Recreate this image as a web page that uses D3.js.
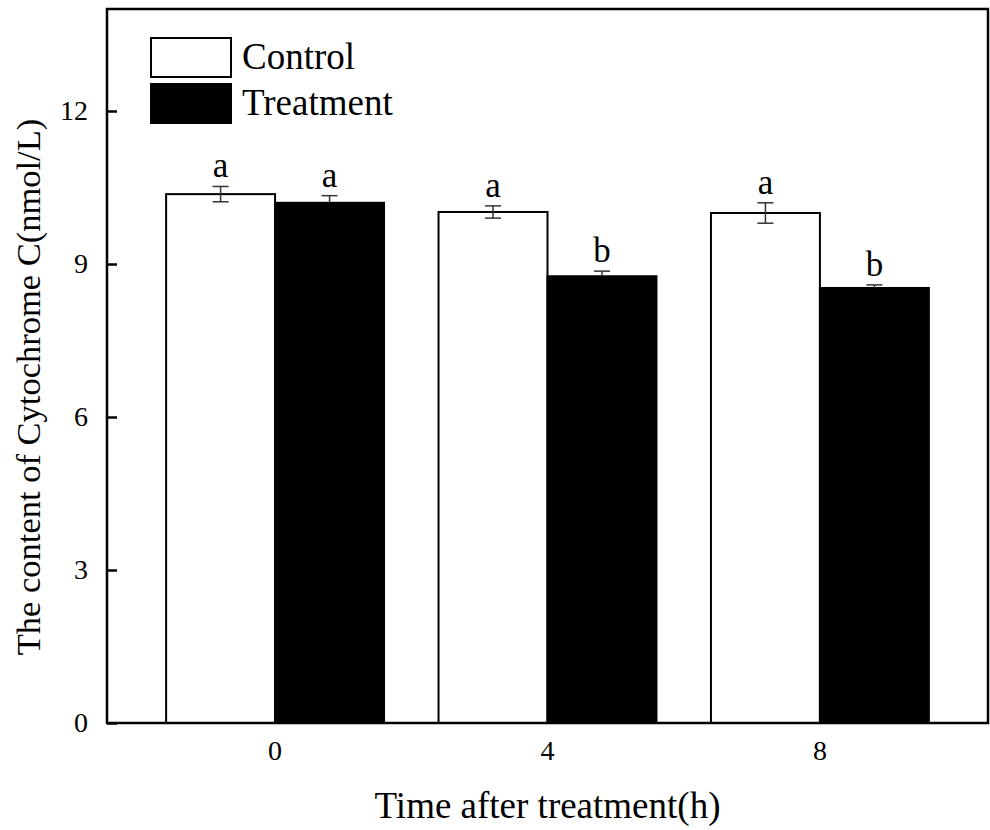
<!DOCTYPE html>
<html>
<head>
<meta charset="utf-8">
<script src="https://cdn.jsdelivr.net/npm/d3@7"></script>
<style>
  html, body { margin: 0; padding: 0; background: #fff; }
  svg { display: block; }
  text { font-family: "Liberation Serif", "Times New Roman", serif; fill: #000; }
</style>
</head>
<body>
<svg id="chart" width="990" height="830"></svg>
<script>
// Sampling times (h) and the two groups
const times = ["0", "4", "8"];
const groups = ["Control", "Treatment"];
// Cytochrome C content (nmol/L), mean and error
const controlMean = [10.37, 10.02, 10.0];
const controlErr = [0.15, 0.12, 0.2];
const treatmentMean = [10.2, 8.76, 8.53];
const treatmentErr = [0.14, 0.1, 0.06];
// Significance letters
const controlSig = ["a", "a", "a"];
const treatmentSig = ["a", "b", "b"];
const yTicks = [0, 3, 6, 9, 12];

const svg = d3.select("#chart");
const margin = { left: 107, right: 2, top: 9, bottom: 107 };
const W = 990, H = 830;
const plotW = W - margin.left - margin.right;
const plotH = H - margin.top - margin.bottom;

const g = svg.append("g").attr("transform", `translate(${margin.left},${margin.top})`);

const y = d3.scaleLinear().domain([0, 14]).range([plotH, 0]);
const x0 = d3.scaleBand().domain(times).range([0, plotW]).paddingInner(0.2).paddingOuter(0.217);
const x1 = d3.scaleBand().domain(groups).range([0, x0.bandwidth()]);

const rows = times.map((t, i) => ({
  t,
  bars: [
    { key: "Control", mean: controlMean[i], err: controlErr[i], sig: controlSig[i] },
    { key: "Treatment", mean: treatmentMean[i], err: treatmentErr[i], sig: treatmentSig[i] }
  ]
}));

const fill = { Control: "#fff", Treatment: "#000" };
const cx = d => x1(d.key) + x1.bandwidth() / 2;

const grp = g.selectAll("g.grp").data(rows).join("g")
  .attr("class", "grp")
  .attr("transform", d => `translate(${x0(d.t)},0)`);

grp.selectAll("rect").data(d => d.bars).join("rect")
  .attr("x", d => x1(d.key))
  .attr("y", d => y(d.mean))
  .attr("width", x1.bandwidth())
  .attr("height", d => y(0) - y(d.mean))
  .attr("fill", d => fill[d.key])
  .attr("stroke", "#000")
  .attr("stroke-width", 2);

// Error bars: full whisker on open bars, upper half on filled bars
const cap = 8;
const eb = grp.selectAll("g.eb").data(d => d.bars).join("g").attr("class", "eb")
  .attr("stroke", "#333").attr("stroke-width", 1.5);
eb.append("line")
  .attr("x1", cx).attr("x2", cx)
  .attr("y1", d => y(d.mean + d.err))
  .attr("y2", d => d.key === "Control" ? y(d.mean - d.err) : y(d.mean));
eb.append("line")
  .attr("x1", d => cx(d) - cap).attr("x2", d => cx(d) + cap)
  .attr("y1", d => y(d.mean + d.err)).attr("y2", d => y(d.mean + d.err));
eb.filter(d => d.key === "Control").append("line")
  .attr("x1", d => cx(d) - cap).attr("x2", d => cx(d) + cap)
  .attr("y1", d => y(d.mean - d.err)).attr("y2", d => y(d.mean - d.err));

// Significance letters
grp.selectAll("text.sig").data(d => d.bars).join("text")
  .attr("class", "sig")
  .attr("x", cx)
  .attr("y", d => y(d.mean + d.err) - 9)
  .attr("text-anchor", "middle")
  .attr("font-size", 35)
  .text(d => d.sig);

// Frame
g.append("rect")
  .attr("x", 0).attr("y", 0).attr("width", plotW).attr("height", plotH)
  .attr("fill", "none").attr("stroke", "#000").attr("stroke-width", 2.5);

// Y axis with inward ticks
const yAxis = g.append("g").call(
  d3.axisLeft(y).tickValues(yTicks).tickSizeInner(-10).tickSizeOuter(0).tickPadding(19)
);
yAxis.select(".domain").remove();
yAxis.selectAll(".tick line").attr("stroke-width", 2.5);
yAxis.selectAll(".tick text").attr("font-size", 28).attr("font-family", "Liberation Serif, serif");

// X axis labels
const xAxis = g.append("g").attr("transform", `translate(0,${plotH})`).call(
  d3.axisBottom(x0).tickSize(0).tickPadding(17)
);
xAxis.select(".domain").remove();
xAxis.selectAll(".tick text").attr("font-size", 28).attr("font-family", "Liberation Serif, serif");

// Axis titles
svg.append("text")
  .attr("x", margin.left + x0("4") + x0.bandwidth() / 2)
  .attr("y", 818)
  .attr("text-anchor", "middle")
  .attr("font-size", 37)
  .text("Time after treatment(h)");

svg.append("text")
  .attr("transform", `translate(40,387) rotate(-90)`)
  .attr("text-anchor", "middle")
  .attr("font-size", 34.5)
  .text("The content of Cytochrome C(nmol/L)");

// Legend
const legend = svg.append("g").attr("transform", "translate(151,38)");
groups.forEach((k, i) => {
  const row = legend.append("g").attr("transform", `translate(0,${i * 46})`);
  row.append("rect").attr("width", 80).attr("height", 39)
    .attr("fill", fill[k]).attr("stroke", "#000").attr("stroke-width", 2);
  row.append("text").attr("x", 91).attr("y", 31).attr("font-size", 37).text(k);
});
</script>
</body>
</html>
